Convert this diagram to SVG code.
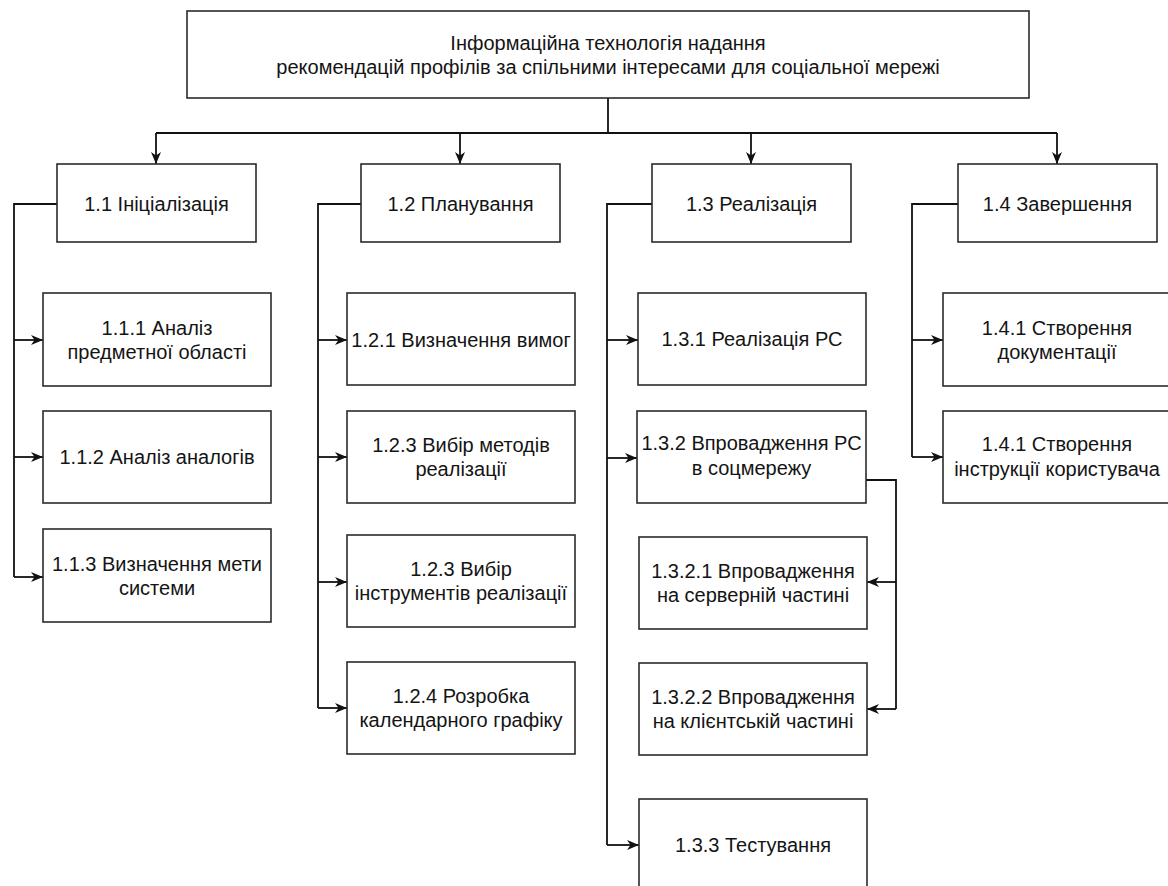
<svg xmlns="http://www.w3.org/2000/svg" width="1168" height="886" viewBox="0 0 1168 886">
<style>
  .box { fill: #ffffff; stroke: #2b2b2b; stroke-width: 1.6; }
  .t { font-family: "Liberation Sans", Arial, sans-serif; font-size: 20px; fill: #141414; text-anchor: middle; }
  .c { fill: none; stroke: #111111; stroke-width: 1.8; }
  .a { fill: none; stroke: #111111; stroke-width: 1.8; marker-end: url(#arr); }
</style>
<defs>
  <marker id="arr" markerUnits="userSpaceOnUse" markerWidth="14" markerHeight="12" refX="12" refY="5" orient="auto">
    <path d="M0,0 L12,5 L0,10 L3.5,5 Z" fill="#111111"/>
  </marker>
</defs>
<rect width="1168" height="886" fill="#ffffff"/>

<g id="connectors">
  <path class="c" d="M608,98 V133 M156,133 H1057"/>
  <path class="a" d="M156,133 V164"/>
  <path class="a" d="M460,133 V164"/>
  <path class="a" d="M751,133 V164"/>
  <path class="a" d="M1057,133 V164"/>

  <path class="c" d="M57,204 H14 V577"/>
  <path class="a" d="M14,340 H43"/>
  <path class="a" d="M14,457 H43"/>
  <path class="a" d="M14,577 H43"/>

  <path class="c" d="M361,204 H318 V708"/>
  <path class="a" d="M318,340 H347"/>
  <path class="a" d="M318,457 H347"/>
  <path class="a" d="M318,582 H347"/>
  <path class="a" d="M318,708 H347"/>

  <path class="c" d="M652,204 H607 V845"/>
  <path class="a" d="M607,340 H638"/>
  <path class="a" d="M607,458 H637"/>
  <path class="a" d="M607,845 H639"/>

  <path class="c" d="M866,480 H896 V709"/>
  <path class="a" d="M896,582 H867"/>
  <path class="a" d="M896,709 H867"/>

  <path class="c" d="M958,204 H912 V457"/>
  <path class="a" d="M912,340 H943"/>
  <path class="a" d="M912,457 H943"/>
</g>

<g id="n-root">
  <rect class="box" x="187" y="11" width="842" height="87"/>
  <text class="t" x="608" y="49.5">Інформаційна технологія надання</text>
  <text class="t" x="608" y="73.5">рекомендацій профілів за спільними інтересами для соціальної мережі</text>
</g>

<g id="n-1-1">
  <rect class="box" x="57" y="164" width="199" height="78"/>
  <text class="t" x="156.5" y="210.5">1.1 Ініціалізація</text>
</g>
<g id="n-1-2">
  <rect class="box" x="361" y="164" width="199" height="78"/>
  <text class="t" x="460.5" y="210.5">1.2 Планування</text>
</g>
<g id="n-1-3">
  <rect class="box" x="652" y="164" width="199" height="78"/>
  <text class="t" x="751.5" y="210.5">1.3 Реалізація</text>
</g>
<g id="n-1-4">
  <rect class="box" x="958" y="164" width="199" height="78"/>
  <text class="t" x="1057.5" y="210.5">1.4 Завершення</text>
</g>

<g id="n-1-1-1">
  <rect class="box" x="43" y="293" width="228" height="93"/>
  <text class="t" x="157" y="334.5">1.1.1 Аналіз</text>
  <text class="t" x="157" y="358.5">предметної області</text>
</g>
<g id="n-1-1-2">
  <rect class="box" x="43" y="411" width="228" height="92"/>
  <text class="t" x="157" y="464">1.1.2 Аналіз аналогів</text>
</g>
<g id="n-1-1-3">
  <rect class="box" x="43" y="529" width="228" height="93"/>
  <text class="t" x="157" y="571">1.1.3 Визначення мети</text>
  <text class="t" x="157" y="595">системи</text>
</g>

<g id="n-1-2-1">
  <rect class="box" x="347" y="293" width="228" height="92"/>
  <text class="t" x="461" y="346.5">1.2.1 Визначення вимог</text>
</g>
<g id="n-1-2-3a">
  <rect class="box" x="347" y="411" width="228" height="92"/>
  <text class="t" x="461" y="452">1.2.3 Вибір методів</text>
  <text class="t" x="461" y="476">реалізації</text>
</g>
<g id="n-1-2-3b">
  <rect class="box" x="347" y="535" width="228" height="92"/>
  <text class="t" x="461" y="576">1.2.3 Вибір</text>
  <text class="t" x="461" y="600">інструментів реалізації</text>
</g>
<g id="n-1-2-4">
  <rect class="box" x="347" y="662" width="228" height="92"/>
  <text class="t" x="461" y="703">1.2.4 Розробка</text>
  <text class="t" x="461" y="727">календарного графіку</text>
</g>

<g id="n-1-3-1">
  <rect class="box" x="638" y="293" width="228" height="92"/>
  <text class="t" x="752" y="346">1.3.1 Реалізація РС</text>
</g>
<g id="n-1-3-2">
  <rect class="box" x="637" y="411" width="229" height="92"/>
  <text class="t" x="751.5" y="450">1.3.2 Впровадження РС</text>
  <text class="t" x="751.5" y="475">в соцмережу</text>
</g>
<g id="n-1-3-2-1">
  <rect class="box" x="639" y="537" width="228" height="92"/>
  <text class="t" x="753" y="578">1.3.2.1 Впровадження</text>
  <text class="t" x="753" y="602">на серверній частині</text>
</g>
<g id="n-1-3-2-2">
  <rect class="box" x="639" y="663" width="228" height="92"/>
  <text class="t" x="753" y="704">1.3.2.2 Впровадження</text>
  <text class="t" x="753" y="728">на клієнтській частині</text>
</g>
<g id="n-1-3-3">
  <rect class="box" x="639" y="799" width="228" height="92"/>
  <text class="t" x="753" y="852">1.3.3 Тестування</text>
</g>

<g id="n-1-4-1a">
  <rect class="box" x="943" y="293" width="228" height="93"/>
  <text class="t" x="1057" y="334.5">1.4.1 Створення</text>
  <text class="t" x="1057" y="359">документації</text>
</g>
<g id="n-1-4-1b">
  <rect class="box" x="943" y="411" width="228" height="92"/>
  <text class="t" x="1057" y="451">1.4.1 Створення</text>
  <text class="t" x="1057" y="476">інструкції користувача</text>
</g>
</svg>
